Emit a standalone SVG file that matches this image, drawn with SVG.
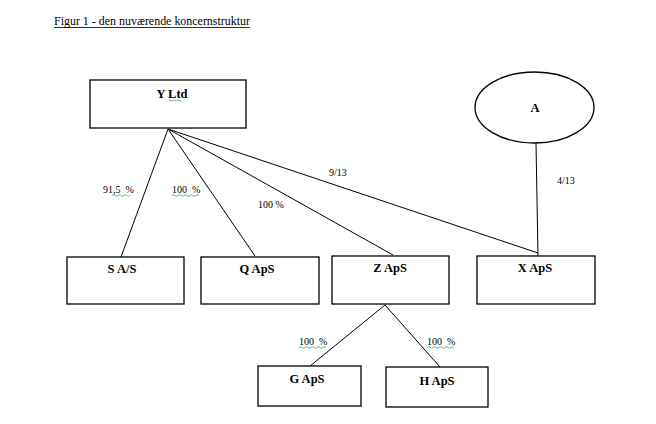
<svg xmlns="http://www.w3.org/2000/svg" width="656" height="424" viewBox="0 0 656 424">
<style>
.box{fill:#fff;stroke:#000;stroke-width:1.3}
.nl{font-family:"Liberation Serif","Times New Roman",serif;font-weight:bold;font-size:12.5px;text-anchor:middle;fill:#000}
.el{font-family:"Liberation Serif","Times New Roman",serif;font-size:10px;fill:#000;white-space:pre}
.ln{stroke:#000;stroke-width:1;fill:none}
.sq{stroke:#3a9a3a;stroke-width:0.7;fill:none}
</style>
<rect width="656" height="424" fill="#fff"/>
<g id="title">
<text x="54" y="25" font-family="Liberation Serif,'Times New Roman',serif" font-size="11.5" textLength="196" lengthAdjust="spacingAndGlyphs">Figur 1 - den nuværende koncernstruktur</text>
<line x1="54" y1="27.5" x2="250" y2="27.5" stroke="#000" stroke-width="0.8"/>
</g>
<g id="connectors">
<line class="ln" x1="168" y1="129" x2="121" y2="257"/>
<line class="ln" x1="168" y1="129" x2="255" y2="256"/>
<line class="ln" x1="168" y1="129" x2="393" y2="255"/>
<line class="ln" x1="168" y1="129" x2="538" y2="253"/>
<line class="ln" x1="536" y1="143" x2="538" y2="256"/>
<line class="ln" x1="385" y1="305" x2="310" y2="366"/>
<line class="ln" x1="385" y1="305" x2="440" y2="367"/>
<text class="el" x="103" y="193" xml:space="preserve">91,5  %</text>
<path class="sq" d="M112 195.5 q1.5 -1.5 3 0 t3 0 t3 0 t3 0 t3 0 t3 0"/>
<text class="el" x="172" y="193" xml:space="preserve">100  %</text>
<path class="sq" d="M172 195.5 q1.5 -1.5 3 0 t3 0 t3 0 t3 0 t3 0 t3 0 t3 0 t3 0 t3 0"/>
<text class="el" x="258" y="208">100 %</text>
<text class="el" x="329" y="176">9/13</text>
<text class="el" x="557" y="184">4/13</text>
<text class="el" x="299" y="345" xml:space="preserve">100  %</text>
<path class="sq" d="M299 347.5 q1.5 -1.5 3 0 t3 0 t3 0 t3 0 t3 0 t3 0 t3 0 t3 0 t3 0"/>
<text class="el" x="427" y="345" xml:space="preserve">100  %</text>
<path class="sq" d="M427 347.5 q1.5 -1.5 3 0 t3 0 t3 0 t3 0 t3 0 t3 0 t3 0 t3 0 t3 0"/>
</g>
<g id="yltd">
<rect class="box" x="90" y="80" width="156" height="48"/>
<text class="nl" x="172" y="98">Y Ltd</text>
<path class="sq" stroke="#d03030" d="M169 100.5 q1 -1.2 2 0 t2 0 t2 0 t2 0 t2 0 t2 0"/>
</g>
<g id="a">
<ellipse class="box" cx="534.5" cy="107.5" rx="59.5" ry="35.5"/>
<text class="nl" x="535" y="112">A</text>
</g>
<g id="sas">
<rect class="box" x="67" y="257" width="117" height="47"/>
<text class="nl" x="122" y="273">S A/S</text>
</g>
<g id="qaps">
<rect class="box" x="201" y="257" width="118" height="47"/>
<text class="nl" x="257" y="273">Q ApS</text>
</g>
<g id="zaps">
<rect class="box" x="332" y="256" width="117" height="48"/>
<text class="nl" x="390" y="272">Z ApS</text>
</g>
<g id="xaps">
<rect class="box" x="477" y="256" width="118" height="48"/>
<text class="nl" x="535" y="272">X ApS</text>
</g>
<g id="gaps">
<rect class="box" x="258" y="366" width="103" height="40"/>
<text class="nl" x="307" y="383">G ApS</text>
</g>
<g id="haps">
<rect class="box" x="386" y="367" width="102" height="40"/>
<text class="nl" x="437" y="385">H ApS</text>
</g>
</svg>
